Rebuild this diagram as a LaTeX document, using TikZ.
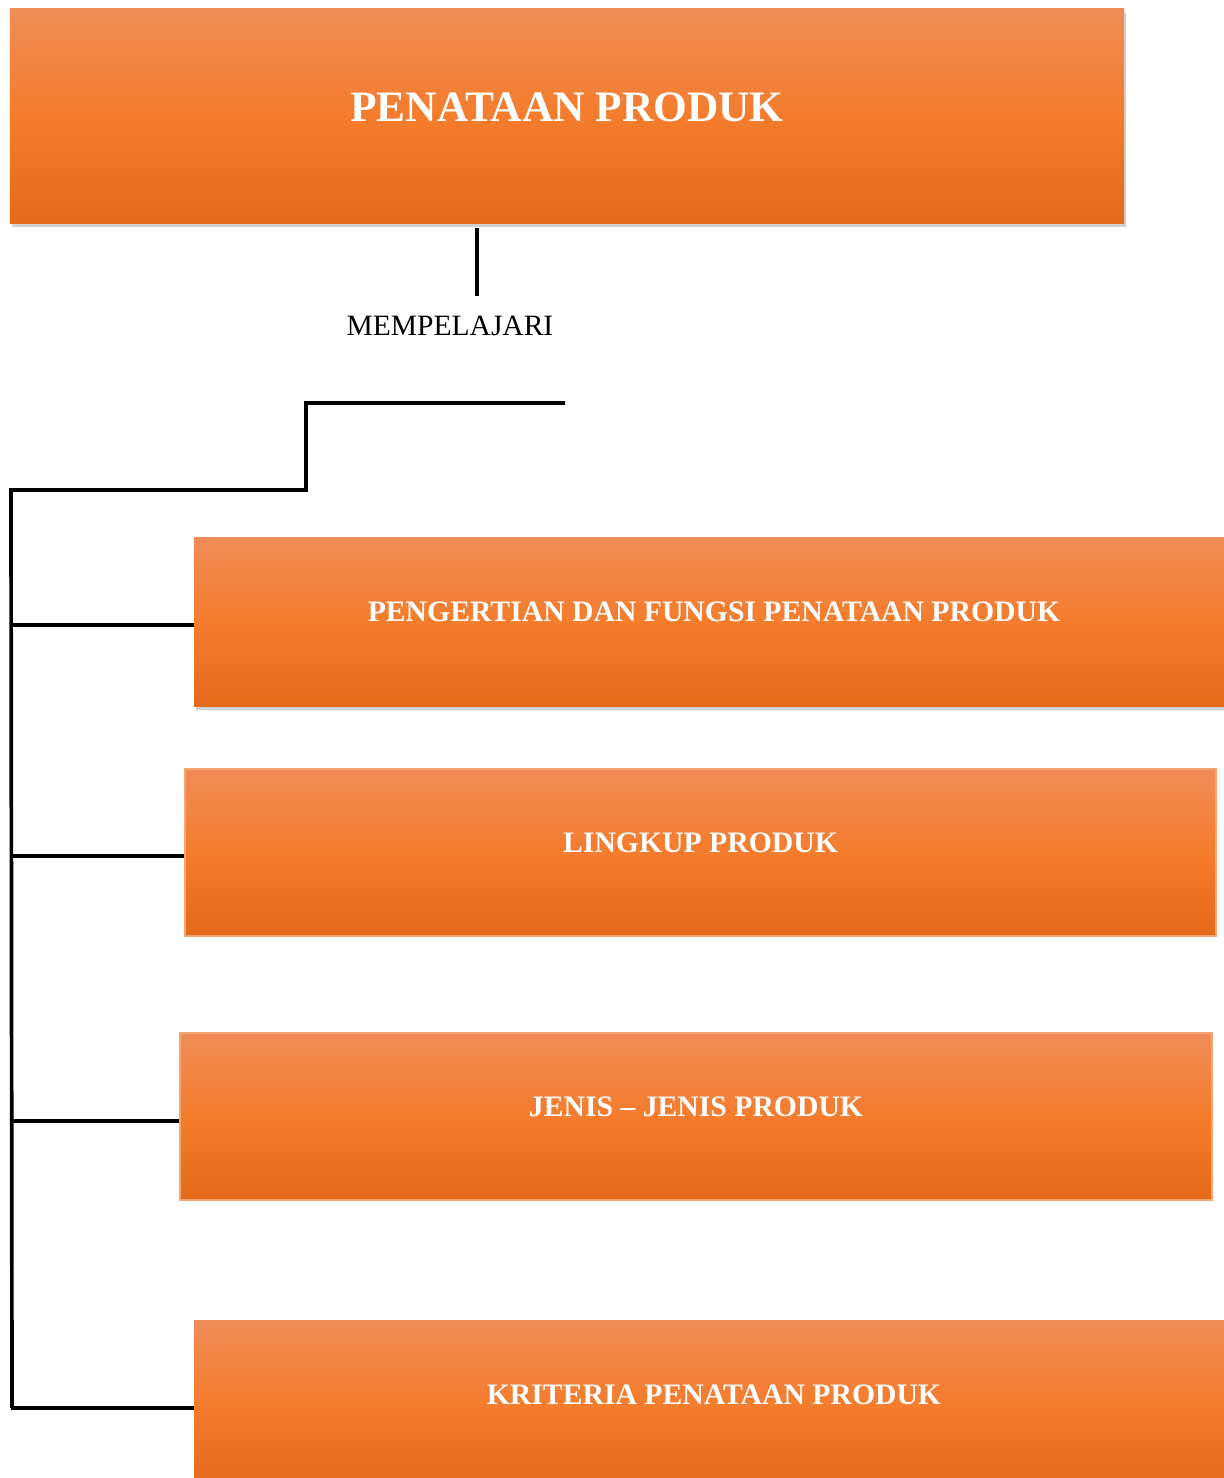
\documentclass[tikz,border=0pt]{standalone}
\usepackage{fontspec}
\setmainfont{Liberation Serif}
\usepackage{tikz}
\usetikzlibrary{positioning,shadows}

\definecolor{oranTop}{RGB}{240,140,88}
\definecolor{oranMid}{RGB}{244,124,44}
\definecolor{oranBot}{RGB}{228,106,26}
\definecolor{oranEdge}{RGB}{246,166,116}

\tikzset{
	kotak/.style={rectangle, top color=oranTop, bottom color=oranBot, middle color=oranMid, text=white, font=\bfseries\fontsize{16.9}{18}\selectfont, text height=0.4cm, text depth=0.4cm, inner sep=0pt},
	kotakbayang/.style={kotak, drop shadow={shadow xshift=1.2pt, shadow yshift=-2.5pt, opacity=0.3, fill=black!60}},
	kotakgaris/.style={kotak, draw=oranEdge, line width=0.6pt},
	garis/.style={line width=2.1pt, draw=black}
}

\begin{document}
\begin{tikzpicture}
		\useasboundingbox (0,0) rectangle (24.48,-29.56);
		
		\node[kotakbayang, minimum width=22.28cm, minimum height=4.28cm, font=\bfseries\fontsize{24.7}{28}\selectfont, text height=0.6cm, text depth=0.4cm] (judul) at (11.34,-2.32) {PENATAAN PRODUK};
		
		\node[font=\fontsize{16.8}{18}\selectfont, text depth=0pt, inner sep=0pt] (pelajari) at (9.0,-6.52) {MEMPELAJARI};
		
		\node[kotakbayang, minimum width=20.8cm, minimum height=3.38cm] (pengertian) at (14.28,-12.43) {PENGERTIAN DAN FUNGSI PENATAAN PRODUK};
		
		\node[kotakgaris, minimum width=20.62cm, minimum height=3.34cm] (lingkup) at (14.01,-17.05) {LINGKUP PRODUK};
		
		\node[kotakgaris, minimum width=20.64cm, minimum height=3.34cm] (jenis) at (13.92,-22.33) {JENIS -- JENIS PRODUK};
		
		\node[kotak, minimum width=20.8cm, minimum height=3.38cm] (kriteria) at (14.28,-28.09) {KRITERIA PENATAAN PRODUK};
		
		\coordinate (atasA) at (9.54,-4.56);
		\coordinate (atasB) at (9.54,-5.92);
		\coordinate (tanggaKanan) at (11.3,-8.06);
		\coordinate (tanggaBelok) at (6.12,-9.8);
		\coordinate (batangAtas) at (0.22,-9.8);
		\coordinate (batangBawah) at (0.24,-28.16);
		
		\path [garis] (atasA) -- (atasB);
		\path [garis] (tanggaKanan) -| (tanggaBelok) -- (batangAtas) -- (batangBawah);
		\path [garis] ([yshift=-0.07cm]pengertian.west) -- ++(-3.66,0);
		\path [garis] ([yshift=-0.07cm]lingkup.west) -- ++(-3.48,0);
		\path [garis] ([yshift=-0.09cm]jenis.west) -- ++(-3.38,0);
		\path [garis] ([yshift=-0.07cm]kriteria.west) -- ++(-3.66,0);
	\end{tikzpicture}
\end{document}
